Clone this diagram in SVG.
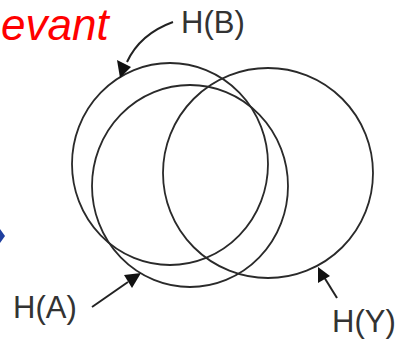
<svg xmlns="http://www.w3.org/2000/svg" width="404" height="341" viewBox="0 0 404 341">
<style>
.c{fill:none;stroke:#2a2a2a;stroke-width:1.8}
.l{font-family:"Liberation Sans",Arial,sans-serif;font-size:31px;fill:#333}
.a{fill:none;stroke:#222;stroke-width:2}
</style>
<rect width="404" height="341" fill="#fff"/>
<text x="1" y="39.5" font-family="'Liberation Sans',Arial,sans-serif" font-size="44" font-style="italic" fill="#ff0000">evant</text>
<polygon points="0,229 5,236 0,243" fill="#1f3f9f"/>
<g id="HB"><ellipse class="c" cx="170" cy="164" rx="98" ry="101"/></g>
<g id="HA"><ellipse class="c" cx="190" cy="186" rx="98" ry="101"/></g>
<g id="HY"><ellipse class="c" cx="268" cy="173" rx="105" ry="105"/></g>
<g id="labels">
<text class="l" x="181" y="33">H(B)</text>
<text class="l" x="13" y="318">H(A)</text>
<text class="l" x="332" y="332">H(Y)</text>
</g>
<g id="connectors">
<path d="M173,22 Q140,34 127,62" class="a"/>
<polygon points="120,78 117,60 131,67" fill="#111"/>
<path d="M92,307 L128,282" class="a"/>
<polygon points="141,273 124,275 132,288" fill="#111"/>
<path d="M337,298 L324,277" class="a"/>
<polygon points="318,267 318,283 330,276" fill="#111"/>
</g>
</svg>
